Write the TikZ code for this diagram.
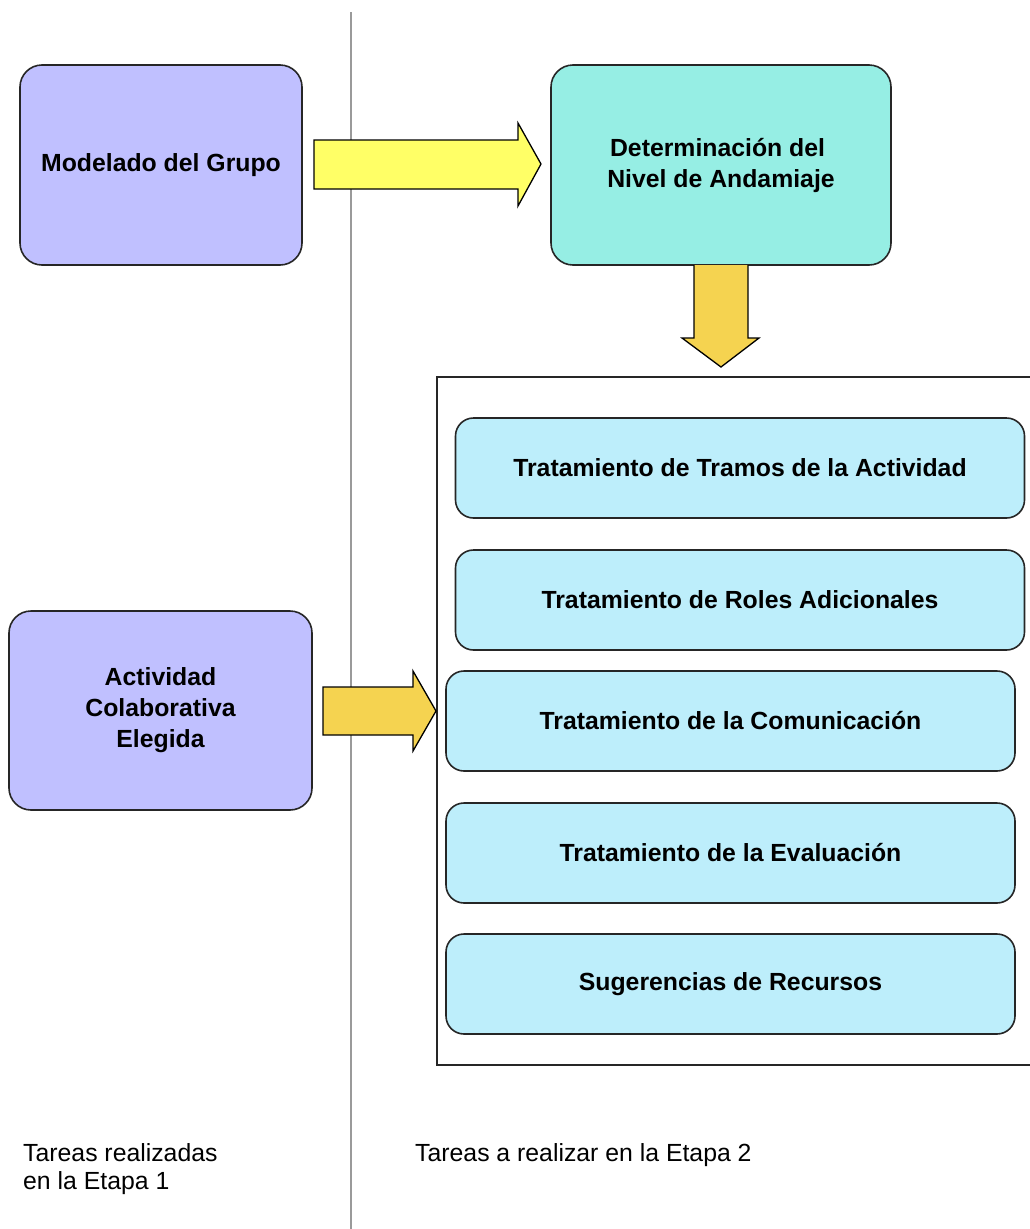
\documentclass[tikz,border=0pt]{standalone}
\usepackage{fontspec}
\setmainfont{Liberation Sans}
\definecolor{lav}{HTML}{C0C0FF}
\definecolor{turq}{HTML}{96EEE4}
\definecolor{lblue}{HTML}{BDEEFB}
\definecolor{yel}{HTML}{FFFF66}
\definecolor{gold}{HTML}{F5D350}
\definecolor{sep}{HTML}{9A9A9A}
\begin{document}
\begin{tikzpicture}[x=1pt,y=-1pt,
  box/.style={draw=black!85,line width=1.6pt,rounded corners=22pt,inner sep=0pt,
    font=\fontsize{24.8}{31}\selectfont\bfseries,align=center},
  subbox/.style={draw=black!85,line width=1.6pt,rounded corners=18pt,fill=lblue,inner sep=0pt,
    minimum width=569pt,minimum height=100pt,font=\fontsize{24.8}{31}\selectfont\bfseries},
  blockarrow/.style={draw=black,line width=1.3pt,line join=miter},
  plain/.style={font=\fontsize{24.8}{28}\selectfont,align=left,inner sep=0pt}]
\useasboundingbox (0,0) rectangle (1030,1229);
% separator
\draw[sep,line width=1.8pt] (351,12) -- (351,1229);
% frame
\draw[black!85,line width=1.6pt] (1040,377) -- (437,377) -- (437,1065) -- (1040,1065);
% boxes
\node[box,fill=lav,minimum width=282pt,minimum height=200pt] (mg) at (161,165) {Modelado del Grupo};
\node[box,fill=turq,minimum width=340pt,minimum height=200pt] (dn) at (721,165) {Determinación del\hspace*{.278em}\\Nivel de Andamiaje};
\node[box,fill=lav,minimum width=303pt,minimum height=199pt] (ac) at (160.5,710.5) {Actividad\\Colaborativa\\Elegida};
\node[subbox] (t1) at (740,468) {Tratamiento de Tramos de la Actividad};
\node[subbox] (t2) at (740,600) {Tratamiento de Roles Adicionales};
\node[subbox] (t3) at (730.5,721) {Tratamiento de la Comunicación};
\node[subbox] (t4) at (730.5,853) {Tratamiento de la Evaluación};
\node[subbox] (t5) at (730.5,984) {Sugerencias de Recursos};
% block arrows
\draw[blockarrow,fill=yel] (314,140) -- (518,140) -- (518,123) -- (541,164) -- (518,206) -- (518,189) -- (314,189) -- cycle;
\draw[blockarrow,fill=gold] (694,265) -- (694,338) -- (682,338) -- (721,367) -- (759,338) -- (748,338) -- (748,265);
\draw[blockarrow,fill=gold] (323,687) -- (413,687) -- (413,671) -- (436,711) -- (413,751) -- (413,735) -- (323,735) -- cycle;
% labels
\node[plain,anchor=north west] (l1) at (23,1143) {Tareas realizadas\\en la Etapa 1};
\node[plain,anchor=north west] (l2) at (415,1143) {Tareas a realizar en la Etapa 2};
\end{tikzpicture}
\end{document}
